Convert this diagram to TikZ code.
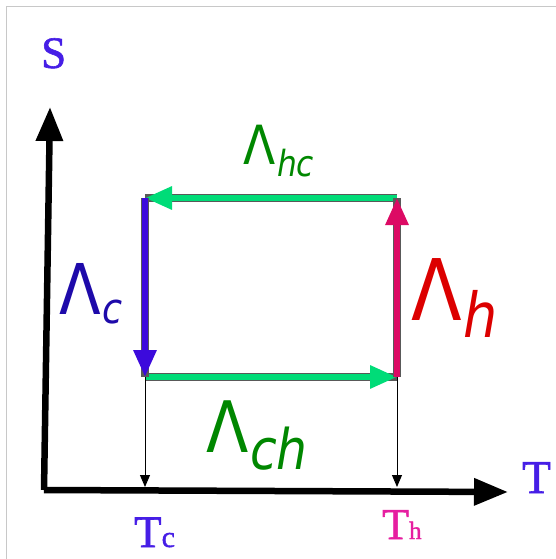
\documentclass[tikz,border=0pt]{standalone}
\usepackage{fontspec}
\setmainfont{Liberation Serif}
\newfontface\axfont{Liberation Serif}[FakeBold=1.3]
\newfontfamily\lamfont{DejaVu Sans}
\usetikzlibrary{arrows.meta}
\definecolor{axislab}{RGB}{70,30,230}
\definecolor{coldcol}{RGB}{60,10,220}
\definecolor{coldlab}{RGB}{30,10,170}
\definecolor{hotcol}{RGB}{220,10,100}
\definecolor{hotlab}{RGB}{220,0,0}
\definecolor{thlab}{RGB}{230,30,160}
\definecolor{isocol}{RGB}{0,220,120}
\definecolor{isolab}{RGB}{0,135,0}
\definecolor{framecol}{RGB}{200,200,200}
\tikzset{
  % thick axis
  axis/.style={line width=6.5pt, -{Triangle[length=34pt,width=26pt]}},
  % cycle edge: coloured bar with a dark rim
  edge/.style={line width=6pt, draw=#1, -{Triangle[length=27pt,width=22pt]},
               preaction={draw=black!65, line width=8.5pt, arrows=-}},
  % thin drop line to the axis
  drop/.style={line width=0.9pt, -{Triangle[length=12pt,width=10pt]}},
  % serif axis label
  axlabel/.style={anchor=base west, inner sep=0pt, text=#1, font=\axfont\fontsize{45}{45}\selectfont},
  axlabel/.default={axislab},
  % Lambda label
  lamlabel/.style={anchor=base west, inner sep=0pt, text=#1, font=\lamfont},
}
% narrow Lambda with a lowered italic index: size, index size, drop, index
\newcommand{\lamsub}[4]{\scalebox{0.87}[1]{\fontsize{#1}{#1}\selectfont\symbol{"039B}\kern2pt\raisebox{-#3}{\fontsize{#2}{#2}\selectfont\itshape #4}}}
\begin{document}
\begin{tikzpicture}[x=1pt,y=-1pt]
  \useasboundingbox (0,0) rectangle (556,559);
  \draw[framecol, line width=1pt] (6.5,559) -- (6.5,6.5) -- (556,6.5);

  % axes
  \coordinate (O) at (44,490);
  \coordinate (stip) at (50,107);
  \coordinate (ttip) at (508,492);
  \draw[axis] (O) -- (stip);
  \draw[axis] (O) -- (ttip);
  \node[axlabel] (S) at (41,68) {S};
  \node[axlabel, font=\axfont\fontsize{47}{47}\selectfont] (T) at (522,493) {T};

  % cycle corners
  \coordinate (tl) at (145,198);
  \coordinate (tr) at (397,198);
  \coordinate (br) at (397,377);
  \coordinate (bl) at (145,377);
  \draw[edge=isocol] (tr) -- (tl);
  \draw[edge=isocol] (bl) -- (br);
  \draw[edge=coldcol] (tl) -- (bl);
  \draw[edge=hotcol] (br) -- (tr);

  % drops to the T axis
  \coordinate (cfoot) at (145,487);
  \coordinate (hfoot) at (397,487);
  \draw[drop] (bl) -- (cfoot);
  \draw[drop] (br) -- (hfoot);
  \node[axlabel] (Tc) at (134,547) {T\fontsize{30}{30}\selectfont c};
  \node[axlabel=thlab, font=\axfont\fontsize{44}{44}\selectfont] (Th) at (382,539) {T\fontsize{25}{25}\selectfont h};

  % process labels
  \node[lamlabel=isolab] (Lhc) at (243,164) {\lamsub{54}{36}{13pt}{hc}};
  \node[lamlabel=coldlab] (Lc) at (59,314) {\lamsub{70}{42}{9pt}{c}};
  \node[lamlabel=hotlab] (Lh) at (411,320) {\lamsub{85}{62}{17pt}{h}};
  \node[lamlabel=isolab] (Lch) at (206,452) {\lamsub{71}{56}{17pt}{ch}};
\end{tikzpicture}
\end{document}
